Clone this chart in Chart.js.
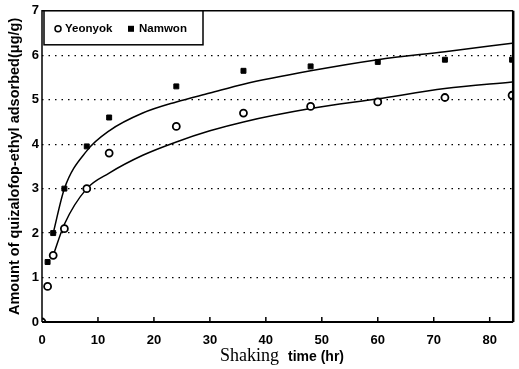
<!DOCTYPE html>
<html><head><meta charset="utf-8">
<script src="https://cdn.jsdelivr.net/npm/chart.js@4/dist/chart.umd.min.js"></script>
<style>html,body{margin:0;padding:0;background:#fff}#wrap{width:519px;height:369px}</style>
</head><body><div id="wrap"><canvas id="c" width="519" height="369"></canvas></div>
<script>
const timeHr = [0, 1, 2, 4, 8, 12, 24, 36, 48, 60, 72, 84];
const yeonyok = [0, 0.8, 1.5, 2.1, 3.0, 3.8, 4.4, 4.7, 4.85, 4.95, 5.05, 5.1];
const namwon = [0, 1.35, 2.0, 3.0, 3.95, 4.6, 5.3, 5.65, 5.75, 5.85, 5.9, 5.9];
const fitTime = [2, 4, 8, 12, 18, 24, 30, 36, 48, 60, 72, 84];
const yeonyokFit = [1.5, 2.2, 3.0, 3.35, 3.75, 4.05, 4.3, 4.5, 4.8, 5.02, 5.25, 5.4];
const namwonFit = [2.0, 3.0, 3.85, 4.3, 4.7, 4.95, 5.15, 5.35, 5.65, 5.9, 6.08, 6.27];
const xTicks = [0, 10, 20, 30, 40, 50, 60, 70, 80];
const yTicks = [0, 1, 2, 3, 4, 5, 6, 7];
const xTitleParts = ['Shaking', 'time (hr)'];

const pts = (xs, ys) => xs.map((x, i) => ({x, y: ys[i]}));
const SANS = "'Liberation Sans', Arial, sans-serif";
const SERIF = "'Liberation Serif', 'Times New Roman', serif";

const framePlugin = {
  id: 'frame',
  afterDraw(chart) {
    const {ctx, chartArea: a, scales} = chart;
    ctx.save();
    ctx.strokeStyle = '#000';
    ctx.lineWidth = 1.5;
    ctx.beginPath();
    ctx.moveTo(a.left, a.bottom); ctx.lineTo(a.left, a.top); ctx.lineTo(a.right, a.top);
    ctx.stroke();
    ctx.lineWidth = 2.5;
    ctx.beginPath(); ctx.moveTo(a.right, a.top); ctx.lineTo(a.right, a.bottom); ctx.stroke();
    ctx.lineWidth = 2;
    ctx.beginPath(); ctx.moveTo(a.left, a.bottom); ctx.lineTo(a.right, a.bottom); ctx.stroke();
    ctx.lineWidth = 1.5;
    xTicks.forEach(v => {
      if (v === 0) return;
      const px = scales.x.getPixelForValue(v);
      ctx.beginPath(); ctx.moveTo(px, a.bottom); ctx.lineTo(px, a.bottom - 5); ctx.stroke();
    });
    // legend box
    const lx = a.left + 2, ly = a.top, lw = 159, lh = 34;
    ctx.fillStyle = '#fff';
    ctx.fillRect(lx, ly, lw, lh);
    ctx.lineWidth = 1.5;
    ctx.strokeRect(lx, ly, lw, lh);
    ctx.fillStyle = '#000';
    ctx.font = 'bold 11.5px ' + SANS;
    ctx.textBaseline = 'middle';
    const cy = ly + 18;
    ctx.lineWidth = 1.5;
    ctx.beginPath(); ctx.arc(lx + 14, cy, 3, 0, Math.PI * 2); ctx.stroke();
    ctx.fillText(chart.data.datasets[0].label, lx + 21, cy);
    ctx.fillRect(lx + 84, cy - 3, 6, 6);
    ctx.fillText(chart.data.datasets[1].label, lx + 95, cy);
    // x title (mixed fonts)
    ctx.textBaseline = 'alphabetic';
    ctx.font = '18px ' + SERIF;
    ctx.fillText(xTitleParts[0], 220, 361);
    ctx.font = 'bold 14px ' + SANS;
    ctx.fillText(xTitleParts[1], 288, 361);
    ctx.restore();
  }
};

new Chart(document.getElementById('c'), {
  type: 'scatter',
  data: {
    datasets: [
      {label: 'Yeonyok', data: pts(timeHr, yeonyok), pointStyle: 'circle', pointRadius: 3.5,
       pointBorderWidth: 1.8, borderColor: '#000', backgroundColor: '#fff', showLine: false},
      {label: 'Namwon', data: pts(timeHr, namwon), pointStyle: 'rect', pointRadius: 3.5,
       pointBorderWidth: 1, borderColor: '#000', backgroundColor: '#000', showLine: false},
      {label: 'Yeonyok fit', data: pts(fitTime, yeonyokFit), showLine: true, pointRadius: 0,
       borderColor: '#000', borderWidth: 1.5, cubicInterpolationMode: 'monotone'},
      {label: 'Namwon fit', data: pts(fitTime, namwonFit), showLine: true, pointRadius: 0,
       borderColor: '#000', borderWidth: 1.5, cubicInterpolationMode: 'monotone'}
    ]
  },
  options: {
    responsive: false,
    animation: false,
    layout: {padding: {top: 10, right: 4, left: 0, bottom: 0}},
    plugins: {legend: {display: false}, tooltip: {enabled: false}},
    scales: {
      x: {
        type: 'linear', min: 0, max: 84.2,
        afterBuildTicks: s => { s.ticks = xTicks.map(v => ({value: v})); },
        afterFit: s => { s.height = 47; },
        grid: {display: false},
        border: {display: false},
        ticks: {color: '#000', font: {family: SANS, weight: 'bold', size: 13}, padding: 3, maxRotation: 0}
      },
      y: {
        min: 0, max: 7,
        afterBuildTicks: s => { s.ticks = yTicks.map(v => ({value: v})); },
        afterFit: s => { s.width = 42; },
        grid: {
          drawTicks: false,
          color: ctx => (ctx.tick && (ctx.tick.value === 0 || ctx.tick.value === 7)) ? 'rgba(0,0,0,0)' : '#000',
          lineWidth: 1.2
        },
        border: {display: false, dash: [1.5, 5]},
        ticks: {color: '#000', font: {family: SANS, weight: 'bold', size: 13}, padding: 3},
        title: {display: true, text: 'Amount of quizalofop-ethyl adsorbed(μg/g)', color: '#000',
                font: {family: SANS, weight: 'bold', size: 14.5}, padding: {top: 6, bottom: 0}}
      }
    }
  },
  plugins: [framePlugin]
});
</script>
</body></html>
